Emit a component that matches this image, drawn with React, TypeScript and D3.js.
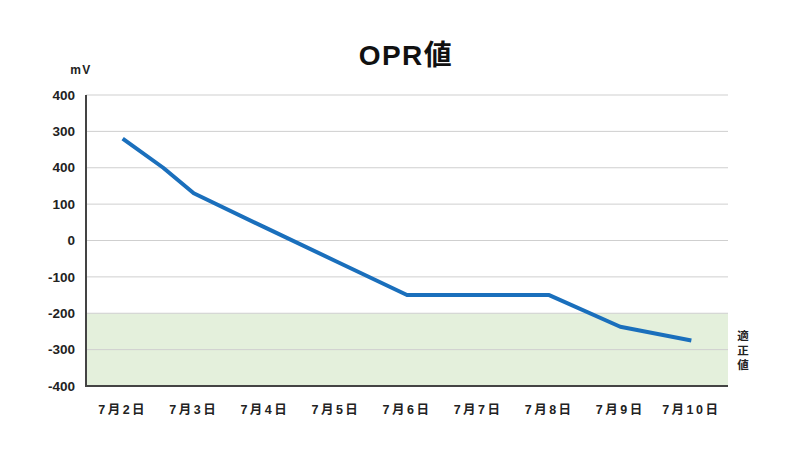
import React from "react";
import * as d3 from "d3";

const categories = ["7月2日", "7月3日", "7月4日", "7月5日", "7月6日", "7月7日", "7月8日", "7月9日", "7月10日"];
const categoryDays = [2, 3, 4, 5, 6, 7, 8, 9, 10];
const lineDays = [2, 2.57, 3, 4, 5, 6, 7, 8, 9, 10];
const lineValues = [280, 200, 130, 36, -57, -150, -150, -150, -237, -275];
const yTickValues = [400, 300, 200, 100, 0, -100, -200, -300, -400];
const yTickLabels = ["400", "300", "400", "100", "0", "-100", "-200", "-300", "-400"];
const bandRange = [-200, -400];
const title = "OPR値";
const unitLabel = "mV";
const bandLabel = ["適", "正", "値"];

const W = 800;
const H = 450;
const left = 86;
const right = 728;
const top = 95;
const bottom = 386;
const font = "'Liberation Sans', 'Noto Sans CJK JP', sans-serif";

export default function App() {
  const step = (right - left) / 9;
  const x = d3.scaleLinear().domain([2, 10]).range([left + step / 2 + 1, right - step / 2 - 1]);
  const y = d3.scaleLinear().domain([-400, 400]).range([bottom, top]);
  const line = d3
    .line<number>()
    .x((_, i) => x(lineDays[i]))
    .y((d) => y(d));
  return (
    <svg width={W} height={H} style={{ position: "absolute", left: 0, top: 0, background: "#fff" }}>
      <rect x={0} y={0} width={W} height={H} fill="#fff" />
      <text x={406} y={65} textAnchor="middle" fontFamily={font} fontWeight="bold" fontSize={28} fill="#111" letterSpacing={1.5}>
        {title}
      </text>
      <text x={81} y={74} textAnchor="middle" fontFamily={font} fontWeight="bold" fontSize={12} fill="#222" letterSpacing={1.5}>
        {unitLabel}
      </text>
      <rect x={left} y={y(bandRange[0])} width={right - left} height={y(bandRange[1]) - y(bandRange[0])} fill="#e4f0dc" />
      {yTickValues.map((v, i) => (
        <g key={i}>
          {v !== -400 && <line x1={left} x2={right} y1={y(v)} y2={y(v)} stroke="#cfcfcf" strokeWidth={1} />}
          <text x={75} y={y(v)} dy="0.35em" textAnchor="end" fontFamily={font} fontWeight="bold" fontSize={13.5} fill="#222">
            {yTickLabels[i]}
          </text>
        </g>
      ))}
      <line x1={left} x2={left} y1={top} y2={bottom} stroke="#444" strokeWidth={2} />
      <line x1={left - 1} x2={right} y1={bottom} y2={bottom} stroke="#444" strokeWidth={2} />
      <path d={line(lineValues) || ""} fill="none" stroke="#1a6fbc" strokeWidth={4} strokeLinejoin="round" />
      {categories.map((c, i) => (
        <text key={c} x={x(categoryDays[i])} y={414} textAnchor="middle" fontFamily={font} fontWeight="bold" fontSize={12.5} fill="#222" letterSpacing={2.5}>
          {c}
        </text>
      ))}
      {bandLabel.map((ch, i) => (
        <text key={i} x={743} y={340 + i * 14.5} textAnchor="middle" fontFamily={font} fontWeight="bold" fontSize={11.5} fill="#222">
          {ch}
        </text>
      ))}
    </svg>
  );
}
